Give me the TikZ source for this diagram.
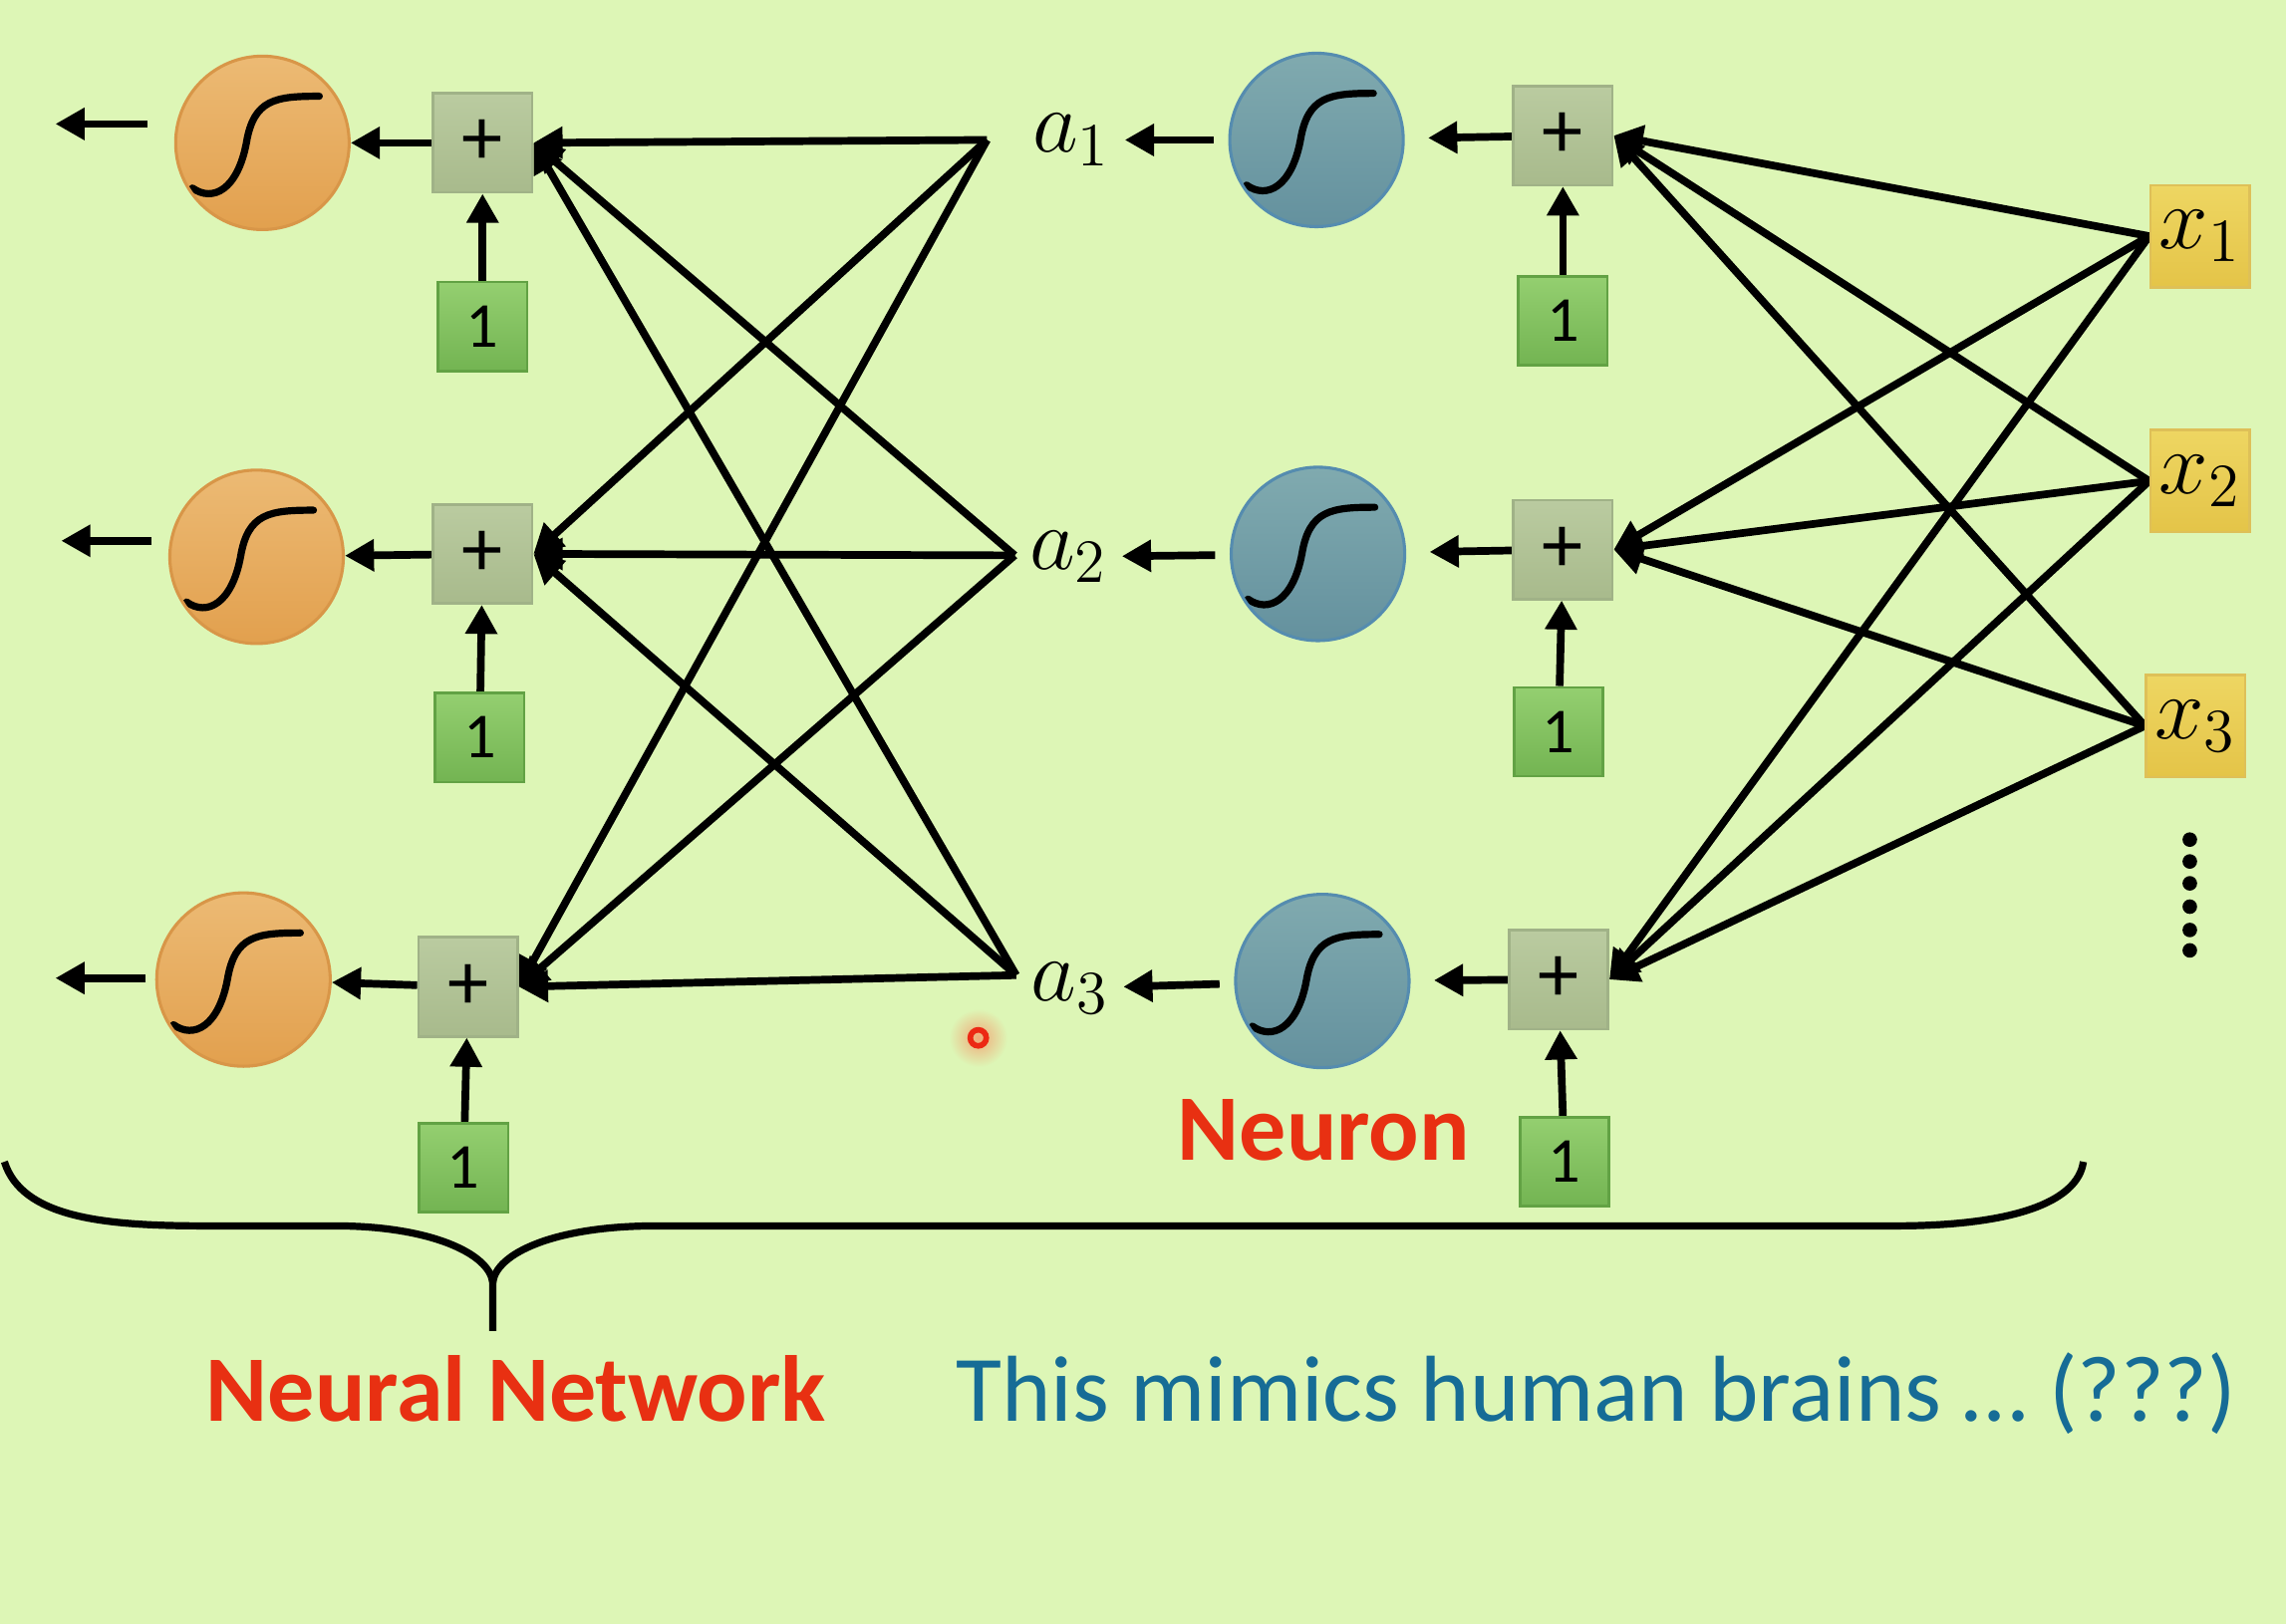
\documentclass[tikz,border=0pt]{standalone}
\usepackage{fontspec}
\setmainfont{Carlito}
\usetikzlibrary{arrows.meta}
\definecolor{nnBack}{RGB}{221,246,182}
\definecolor{nnOrangeTop}{RGB}{236,186,116}
\definecolor{nnOrangeBot}{RGB}{226,160,78}
\definecolor{nnOrangeLine}{RGB}{216,150,72}
\definecolor{nnBlueTop}{RGB}{128,170,175}
\definecolor{nnBlueBot}{RGB}{100,145,158}
\definecolor{nnBlueLine}{RGB}{85,140,175}
\definecolor{nnPlusTop}{RGB}{186,203,160}
\definecolor{nnPlusBot}{RGB}{168,186,140}
\definecolor{nnPlusLine}{RGB}{160,178,135}
\definecolor{nnOneTop}{RGB}{148,207,112}
\definecolor{nnOneBot}{RGB}{115,180,82}
\definecolor{nnOneLine}{RGB}{98,162,68}
\definecolor{nnYellowTop}{RGB}{238,214,98}
\definecolor{nnYellowBot}{RGB}{228,196,72}
\definecolor{nnYellowLine}{RGB}{222,192,88}
\definecolor{nnRed}{RGB}{232,48,18}
\definecolor{nnTeal}{RGB}{22,108,150}
\definecolor{nnCursor}{RGB}{236,40,20}
\definecolor{nnGlow}{RGB}{240,170,120}
\tikzset{
    SIGMOID/.style={draw=black, line width=1.4pt, line cap=round},
    BALL/.style={shape=circle, minimum size=11.9mm, inner sep=0mm,
        line width=0.6pt,
        path picture={\draw[SIGMOID]
            ([shift={(-0.48,-0.31)}]path picture bounding box.center)
            .. controls +(0.14,-0.10) and +(-0.06,-0.32) ..
            ([shift={(-0.11,0)}]path picture bounding box.center)
            .. controls +(0.05,0.30) and +(-0.30,0) ..
            ([shift={(0.39,0.32)}]path picture bounding box.center);}},
    ORANGE_BALL/.style={BALL, top color=nnOrangeTop, bottom color=nnOrangeBot,
        draw=nnOrangeLine},
    BLUE_BALL/.style={BALL, top color=nnBlueTop, bottom color=nnBlueBot,
        draw=nnBlueLine},
    PLUS_BOX/.style={shape=rectangle, minimum size=6.8mm, inner sep=0mm,
        top color=nnPlusTop, bottom color=nnPlusBot, draw=nnPlusLine,
        line width=0.5pt, font={\fontsize{16}{16}\selectfont}},
    ONE_BOX/.style={PLUS_BOX, minimum size=6.1mm,
        top color=nnOneTop, bottom color=nnOneBot, draw=nnOneLine,
        font={\fontsize{12.5}{12.5}\selectfont}},
    INPUT_BOX/.style={PLUS_BOX, minimum width=6.8mm, minimum height=7.0mm,
        top color=nnYellowTop, bottom color=nnYellowBot, draw=nnYellowLine,
        font={\fontsize{18}{18}\selectfont}},
    LABEL/.style={inner sep=0.9mm, font={\fontsize{18}{18}\selectfont}},
    RED_TEXT/.style={inner sep=0mm, text=nnRed,
        font={\fontsize{18.3}{22}\selectfont\bfseries}},
    TEAL_TEXT/.style={inner sep=0mm, text=nnTeal,
        font={\fontsize{18.3}{22}\selectfont}},
    EDGE/.style={draw=black, line width=1.5pt,
        -{Triangle[length=2mm, width=2.1mm]}},
    BRACE/.style={draw=black, line width=1.4pt}
}
\pgfdeclarelayer{bglayer}
\pgfdeclarelayer{edgelayer}
\pgfdeclarelayer{nodelayer}
\pgfsetlayers{bglayer,edgelayer,nodelayer,main}

\begin{document}
\begin{tikzpicture}
    \begin{pgfonlayer}{bglayer}
        \fill[nnBack] (0,0) rectangle (15.68,-11.14);
    \end{pgfonlayer}
    \useasboundingbox (0,0) rectangle (15.68,-11.14);
    \begin{pgfonlayer}{nodelayer}
        \node [ORANGE_BALL] (1) at (1.80, -0.98) {};
        \node [ORANGE_BALL] (2) at (1.76, -3.82) {};
        \node [ORANGE_BALL] (3) at (1.67, -6.72) {};
        \node [PLUS_BOX] (4) at (3.31, -0.98) {+};
        \node [PLUS_BOX] (5) at (3.31, -3.80) {+};
        \node [PLUS_BOX] (6) at (3.21, -6.77) {+};
        \node [ONE_BOX] (7) at (3.31, -2.24) {1};
        \node [ONE_BOX] (8) at (3.29, -5.06) {1};
        \node [ONE_BOX] (9) at (3.18, -8.01) {1};
        \node [LABEL] (10) at (7.35, -0.96) {$a_1$};
        \node [LABEL] (11) at (7.33, -3.82) {$a_2$};
        \node [LABEL] (12) at (7.34, -6.78) {$a_3$};
        \coordinate (13) at (6.77, -0.96);
        \coordinate (14) at (6.96, -3.81);
        \coordinate (15) at (6.97, -6.69);
        \node [BLUE_BALL] (16) at (9.03, -0.96) {};
        \node [BLUE_BALL] (17) at (9.04, -3.80) {};
        \node [BLUE_BALL] (18) at (9.07, -6.73) {};
        \node [PLUS_BOX] (19) at (10.72, -0.93) {+};
        \node [PLUS_BOX] (20) at (10.72, -3.77) {+};
        \node [PLUS_BOX] (21) at (10.69, -6.72) {+};
        \node [ONE_BOX] (22) at (10.72, -2.20) {1};
        \node [ONE_BOX] (23) at (10.69, -5.02) {1};
        \node [ONE_BOX] (24) at (10.73, -7.97) {1};
        \node [INPUT_BOX] (25) at (15.09, -1.62) {$x_1$};
        \node [INPUT_BOX] (26) at (15.09, -3.30) {$x_2$};
        \node [INPUT_BOX] (27) at (15.06, -4.98) {$x_3$};
        \coordinate (28) at (1.01, -0.85);
        \coordinate (29) at (0.38, -0.85);
        \coordinate (30) at (1.04, -3.71);
        \coordinate (31) at (0.42, -3.71);
        \coordinate (32) at (1.00, -6.71);
        \coordinate (33) at (0.38, -6.71);
        \node [RED_TEXT, anchor=base] (34) at (9.08, -7.96) {Neuron};
        \node [RED_TEXT, anchor=base] (35) at (3.54, -9.75) {Neural Network};
        \node [TEAL_TEXT, anchor=base] (36) at (10.95, -9.75) {This mimics human brains … (???)};
    \end{pgfonlayer}
    \begin{pgfonlayer}{edgelayer}
        \draw[EDGE] (28) to (29);
        \draw[EDGE] (30) to (31);
        \draw[EDGE] (32) to (33);
        \draw[EDGE] (4) to (1);
        \draw[EDGE] (5) to (2);
        \draw[EDGE] (6) to (3);
        \draw[EDGE] (7) to (4);
        \draw[EDGE] (8) to (5);
        \draw[EDGE] (9) to (6);
        \draw[EDGE] (13) to (4.east);
        \draw[EDGE] (13) to (5.east);
        \draw[EDGE] (13) to (6.east);
        \draw[EDGE] (14) to (4.east);
        \draw[EDGE] (14) to (5.east);
        \draw[EDGE] (14) to (6.east);
        \draw[EDGE] (15) to (4.east);
        \draw[EDGE] (15) to (5.east);
        \draw[EDGE] (15) to (6.east);
        \draw[EDGE, shorten <=1mm] (16) to (10);
        \draw[EDGE, shorten <=1mm] (17) to (11);
        \draw[EDGE, shorten <=1mm] (18) to (12);
        \draw[EDGE, shorten >=1.6mm] (19) to (16);
        \draw[EDGE, shorten >=1.6mm] (20) to (17);
        \draw[EDGE, shorten >=1.6mm] (21) to (18);
        \draw[EDGE] (22) to (19);
        \draw[EDGE] (23) to (20);
        \draw[EDGE] (24) to (21);
        \draw[EDGE] (25.west) to (19.east);
        \draw[EDGE] (25.west) to (20.east);
        \draw[EDGE] (25.west) to (21.east);
        \draw[EDGE] (26.west) to (19.east);
        \draw[EDGE] (26.west) to (20.east);
        \draw[EDGE] (26.west) to (21.east);
        \draw[EDGE] (27.west) to (19.east);
        \draw[EDGE] (27.west) to (20.east);
        \draw[EDGE] (27.west) to (21.east);
    \end{pgfonlayer}
    \foreach \y in {5.76, 5.91, 6.06, 6.22, 6.38, 6.52}
        \fill (15.02, -\y) circle (0.05);
    \draw[BRACE] (0.03, -7.97) .. controls (0.15, -8.35) and (0.70, -8.41) .. (1.40, -8.41)
        -- (2.30, -8.41) .. controls (2.95, -8.41) and (3.36, -8.60) .. (3.38, -8.80)
        -- (3.38, -9.13);
    \draw[BRACE] (3.38, -8.80) .. controls (3.40, -8.60) and (3.80, -8.41) .. (4.50, -8.41)
        -- (13.00, -8.41) .. controls (13.80, -8.41) and (14.25, -8.25) .. (14.29, -7.97);
    \shade[inner color=nnGlow, outer color=nnBack] (6.71, -7.12) circle (0.2);
    \draw[nnCursor, line width=1.1pt] (6.71, -7.12) circle (0.055);
\end{tikzpicture}
\end{document}
